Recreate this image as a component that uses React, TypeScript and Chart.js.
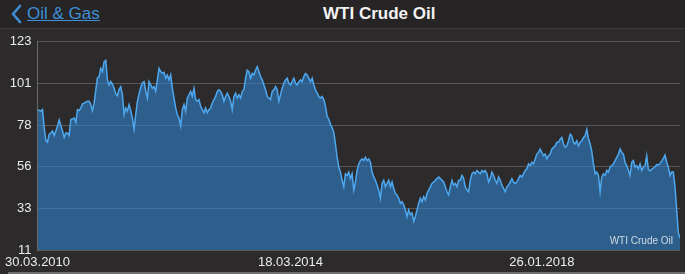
import React, { useEffect, useRef } from 'react';
import { Chart, registerables } from 'chart.js';

Chart.register(...registerables);

// WTI weekly-ish closes, in order (30.03.2010 .. spring 2020)
const pricesPart1 = [
  86.5, 86, 85.7, 86.5, 76.8, 70, 69, 73.3, 74, 75,
  72.6, 75, 77.7, 81, 78, 75, 71.5, 74, 74, 72.6,
  81.2, 81.5, 82, 79.5, 86.5, 86, 87.5, 89.5, 90, 90.5,
  91, 91, 89.2, 86, 90, 97, 103.6, 104.3, 108.7, 107,
  112.2, 113, 102.5, 99.8, 101.6, 100.3, 98, 95, 94, 97.5,
  98.9, 94.5, 83.9, 87.4, 85.7, 89.2, 86, 82, 76, 83.9,
  91, 95, 98.5, 100.9, 101.6,
];
const pricesPart2 = [
  96.3, 92.7, 101.6, 99.8, 98, 98.9, 96.3, 102.5, 108.7, 107,
  106.1, 106.6, 103.4, 105.2, 102.5, 105.2, 98, 92.7, 87.4, 83.9,
  82, 77.7, 86.5, 89.2, 85.7, 92.7, 94.5, 96.3, 93.6, 98,
  91.9, 91, 91.9, 88.3, 86.5, 84.8, 87.4, 84.8, 86.5, 87.4,
  90.1, 91.9, 93.6, 96.3, 97.2, 96.3, 94.5, 91, 93.6, 95.4,
  93.6, 91, 86.5, 93.6, 95.4, 92.7, 94.5, 92.7, 96.3, 97.2,
  103.4, 107.8, 107,
];
const pricesPart3 = [
  103.4, 106, 105.2, 107.8, 109.6, 107, 104.3, 102.5, 99.8, 97.2,
  93.6, 92.7, 91.9, 96.3, 97.2, 98.9, 97.2, 91, 94.5, 98,
  100.7, 102.5, 103.4, 100.7, 99.8, 101.6, 103.4, 100.7, 99.8, 101.6,
  102.5, 101.6, 104.3, 106, 105.2, 103.4, 101.6, 103.4, 99.8, 97.2,
  95.4, 93.6, 92.7, 93.6, 91.9, 88.3, 83, 81.2, 78.6, 76.8,
  74.2, 68, 60.9, 55.6, 52.9, 48.5, 45, 52, 51.1, 52.9,
  49.4, 52, 43.2,
];
const pricesPart4 = [
  47.6, 53.8, 57.3, 59.1, 60, 59.1, 60.9, 59.1, 60, 58.2,
  52.9, 50.3, 48.5, 45.9, 43.2, 38.8, 46.8, 48.5, 45, 46.8,
  48.5, 45, 47.6, 44.1, 41.4, 40.6, 38.8, 36.1, 37, 35.3,
  32.6, 29, 32.6, 30, 30.9, 26.4, 29, 32.6, 36.1, 38.8,
  37, 39.7, 37.9, 41.4, 43.2, 45, 46.8, 47.6, 48.5, 49.4,
  50.3, 49.4, 48.5, 47.6, 45, 42.3, 40.6, 45, 48.5, 45.9,
  46.8, 45, 48.5,
];
const pricesPart5 = [
  48.5, 51.1, 49.4, 45, 43.2, 42.3, 48.5, 52, 52.9, 52,
  53.8, 52.9, 52, 53.8, 52.9, 53.8, 52, 47.6, 49.4, 52.9,
  51.1, 48.5, 46.8, 50.3, 48.5, 45.9, 44.1, 42.3, 45, 45.9,
  47.6, 49.4, 47.6, 46.8, 47.6, 49.4, 51.1, 50.3, 52, 53.8,
  54.7, 57.3, 56.4, 58.2, 57.3, 60, 62.6, 63.5, 65.3, 63.5,
  61.7, 62.6, 60, 61.7, 62.6, 65.3, 66.2, 67, 68.9, 68.9,
  70.6, 71.5, 68,
];
const pricesPart6 = [
  66.2, 67, 69.8, 73.3, 72.4, 68.9, 68, 69.8, 67, 68.9,
  69.8, 71.5, 72.4, 75.9, 71, 68, 64, 57.3, 52, 52.9,
  51.1, 42.3, 50.3, 52, 51.1, 53.8, 52.9, 55.6, 56.4, 57.3,
  59.1, 60.9, 62.6, 65.3, 63.5, 62.6, 58.2, 56.4, 53.8, 51.1,
  58.2, 59.1, 55.6, 56.4, 54.7, 57.3, 53.8, 55.6, 56.4, 61.7,
  54.2, 53.5, 54.5, 55, 55.8, 57, 56.8, 57.5, 58.8, 60.3,
  62, 58.2, 55.6, 51.1, 52.9, 52.9, 45, 32.6, 20.2, 17.5,
];

const dateTickLabels = ['30.03.2010', '18.03.2014', '26.01.2018'];
const dateTickIndex = [0, 152, 303];
const yTickValues = [11, 33.4, 55.8, 78.2, 100.6, 123];
const seriesName = 'WTI Crude Oil';
const headerTitle = 'WTI Crude Oil';
const backLabel = 'Oil & Gas';

const BG = '#2c2a2a';
const FONT = '"Liberation Sans", Arial, Helvetica, sans-serif';

export default function App() {
  const ref = useRef<HTMLCanvasElement>(null);

  useEffect(() => {
    document.body.style.margin = '0';
    document.body.style.background = BG;
    const prices = [
      ...pricesPart1, ...pricesPart2, ...pricesPart3,
      ...pricesPart4, ...pricesPart5, ...pricesPart6,
    ];
    const watermark = {
      id: 'watermark',
      afterDatasetsDraw(chart: any) {
        const { ctx, chartArea } = chart;
        ctx.save();
        ctx.font = '10px ' + FONT;
        ctx.fillStyle = 'rgba(232,236,240,0.85)';
        ctx.textAlign = 'right';
        ctx.textBaseline = 'alphabetic';
        ctx.fillText(seriesName, chartArea.right - 7, chartArea.bottom - 6);
        ctx.restore();
      },
    };
    const tickFont = { family: FONT, size: 13 };
    const chart = new Chart(ref.current as HTMLCanvasElement, {
      type: 'line',
      data: {
        datasets: [
          {
            label: seriesName,
            data: prices.map((y, i) => ({ x: i, y })),
            borderColor: '#4ea8f0',
            borderWidth: 1.5,
            backgroundColor: 'rgba(48,130,205,0.6)',
            fill: 'start',
            pointRadius: 0,
            tension: 0,
          },
        ],
      },
      options: {
        animation: false,
        responsive: false,
        maintainAspectRatio: false,
        layout: { padding: { top: 10, right: 5, left: 0, bottom: 0 } },
        plugins: { legend: { display: false }, tooltip: { enabled: false } },
        scales: {
          x: {
            type: 'linear',
            min: 0,
            max: prices.length - 1,
            grid: { display: false, drawTicks: false },
            border: { display: false },
            afterBuildTicks: (s: any) => {
              s.ticks = dateTickIndex.map((v) => ({ value: v }));
            },
            afterFit: (s: any) => {
              s.height = 22;
            },
            ticks: {
              autoSkip: false,
              maxRotation: 0,
              minRotation: 0,
              padding: 5,
              color: '#ececec',
              font: tickFont,
              callback: (v: any) => {
                const k = dateTickIndex.indexOf(Number(v));
                return k >= 0 ? dateTickLabels[k] : '';
              },
            },
          },
          y: {
            type: 'linear',
            min: 11,
            max: 123,
            afterBuildTicks: (s: any) => {
              s.ticks = yTickValues.map((v) => ({ value: v }));
            },
            afterFit: (s: any) => {
              s.width = 37;
            },
            grid: { color: '#575757', drawTicks: false, lineWidth: 1 },
            border: { display: true, color: '#6a6a6a', width: 1 },
            ticks: {
              padding: 6,
              color: '#ececec',
              font: tickFont,
              callback: (v: any) => String(Math.round(Number(v))),
            },
          },
        },
      },
      plugins: [watermark],
    });
    return () => chart.destroy();
  }, []);

  return (
    <div style={{ position: 'absolute', left: 0, top: 0, width: 685, height: 274, background: BG, overflow: 'hidden', fontFamily: FONT }}>
      <div style={{ position: 'absolute', left: 0, top: 0, width: 685, height: 28, background: '#262424', borderBottom: '1px solid #3a3838' }}>
        <svg width="14" height="22" style={{ position: 'absolute', left: 9, top: 3 }}>
          <polyline points="11,3 4,11 11,19" fill="none" stroke="#3d90d8" strokeWidth="2.6" strokeLinecap="round" strokeLinejoin="round" />
        </svg>
        <div style={{ position: 'absolute', left: 27, top: 4, fontSize: 17, lineHeight: '20px', color: '#3d90d8', textDecoration: 'underline' }}>{backLabel}</div>
        <div style={{ position: 'absolute', left: 323, top: 4, fontSize: 17, lineHeight: '20px', color: '#f2f2f2', fontWeight: 'bold' }}>{headerTitle}</div>
      </div>
      <canvas ref={ref} width={685} height={244} style={{ position: 'absolute', left: 0, top: 28, width: 685, height: 244 }} />
      <div style={{ position: 'absolute', left: 8, top: 272, width: 677, height: 2, background: '#6e6e6e' }} />
    </div>
  );
}
